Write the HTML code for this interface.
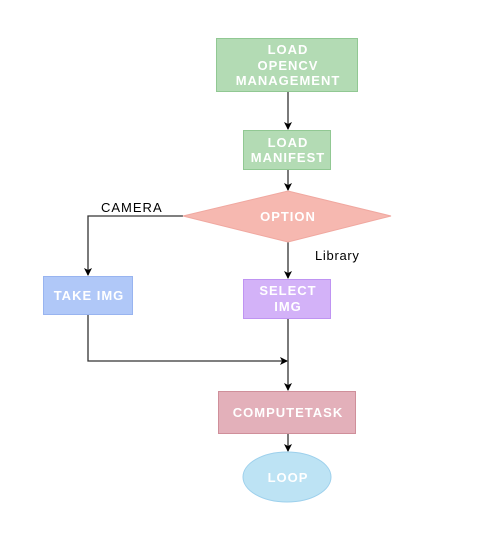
<!DOCTYPE html>
<html><head><style>body{margin:0;background:#fff}</style></head><body>
<svg width="485" height="537" xmlns="http://www.w3.org/2000/svg" font-family="Liberation Sans, Arial, sans-serif">
<defs><marker id="a" markerWidth="8" markerHeight="8" refX="7" refY="4" orient="auto" markerUnits="userSpaceOnUse"><path d="M0,0 L8,4 L0,8 L2,4 z" fill="#000"/></marker></defs>
<g stroke="#333" stroke-width="1.3" fill="none">
<line x1="288" y1="91" x2="288" y2="129" marker-end="url(#a)"/>
<line x1="288" y1="169" x2="288" y2="190" marker-end="url(#a)"/>
<polyline points="183,216 88,216 88,275" marker-end="url(#a)"/>
<line x1="288" y1="242" x2="288" y2="278" marker-end="url(#a)"/>
<polyline points="88,314 88,361 287,361" marker-end="url(#a)"/>
<line x1="288" y1="318" x2="288" y2="390" marker-end="url(#a)"/>
<line x1="288" y1="433" x2="288" y2="451" marker-end="url(#a)"/>
</g>
<rect x="216.5" y="38.5" width="141" height="53" fill="#b3dbb4" stroke="#91c893"/>
<rect x="243.5" y="130.5" width="87" height="39" fill="#b3dbb4" stroke="#91c893"/>
<polygon points="183,216 288,191 391,216 288,242" fill="#f6b8b0" stroke="#f0a8a0"/>
<rect x="43.5" y="276.5" width="89" height="38" fill="#b0c8f8" stroke="#98b4f0"/>
<rect x="243.5" y="279.5" width="87" height="39" fill="#d3b2f8" stroke="#bf94f2"/>
<rect x="218.5" y="391.5" width="137" height="42" fill="#e3b0ba" stroke="#cf8f9a"/>
<ellipse cx="287" cy="477" rx="44" ry="25" fill="#bde3f4" stroke="#9dd0ec"/>
<g fill="#fff" font-weight="bold" font-size="13" letter-spacing="1" text-anchor="middle">
<text x="288" y="54">LOAD</text><text x="288" y="70">OPENCV</text><text x="288" y="85">MANAGEMENT</text>
<text x="288" y="147">LOAD</text><text x="288" y="162">MANIFEST</text>
<text x="288" y="221">OPTION</text>
<text x="89" y="300">TAKE IMG</text>
<text x="288" y="295">SELECT</text><text x="288" y="311">IMG</text>
<text x="288" y="417">COMPUTETASK</text>
<text x="288" y="482">LOOP</text>
</g>
<text x="101" y="212" font-size="13" letter-spacing="1">CAMERA</text>
<text x="315" y="260" font-size="13" letter-spacing="0.7">Library</text>
</svg>
</body></html>
